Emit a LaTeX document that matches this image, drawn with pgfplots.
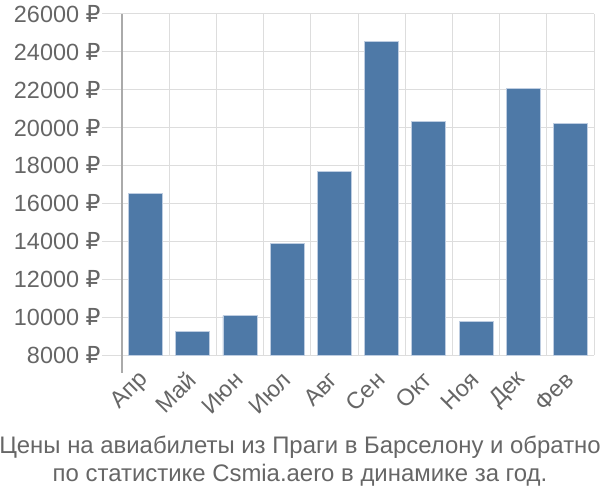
\documentclass[border=0pt]{standalone}
\usepackage{pgfplots}
\pgfplotsset{compat=1.18}
\usepackage{fontspec}
\setmainfont{Liberation Sans}
\newfontfamily\rub{DejaVu Sans}
\definecolor{barc}{HTML}{4E79A7}
\definecolor{gridc}{HTML}{DDDDDD}
\definecolor{txt}{HTML}{666666}
\definecolor{axc}{HTML}{AAAAAA}
\newcommand{\R}{\ {\rub ₽}}
\begin{document}
\begin{tikzpicture}
\path[use as bounding box] (-122bp,-145bp) rectangle (478bp,355bp);
\begin{axis}[
  at={(0,0)}, anchor=south west,
  scale only axis, width=472bp, height=341bp,
  xmin=-0.5, xmax=9.5, ymin=8000, ymax=26000,
  scaled y ticks=false,
  ytick={8000,10000,...,26000},
  yticklabels={8000\R,10000\R,12000\R,14000\R,16000\R,18000\R,20000\R,22000\R,24000\R,26000\R},
  xtick={0,...,9},
  xticklabels={Апр,Май,Июн,Июл,Авг,Сен,Окт,Ноя,Дек,Фев},
  minor xtick={-0.5,0.5,...,9.5},
  xminorgrids, ymajorgrids,
  grid style={gridc, line width=1bp},
  minor grid style={gridc, line width=1bp},
  tick align=outside, xtick pos=bottom, ytick pos=left,
  major tick length=20bp,
  x tick style={draw=none},
  minor x tick style={gridc, line width=1bp},
  minor tick length=18bp,
  y tick style={gridc, line width=1bp},
  separate axis lines,
  x axis line style={gridc, line width=1bp},
  y axis line style={axc, line width=1.5bp},
  axis x line*=bottom, axis y line*=left,
  x tick label style={rotate=45, anchor=east, font=\fontsize{23.5}{24}\selectfont, text=txt, xshift=2bp},
  y tick label style={font=\fontsize{23.5}{24}\selectfont, text=txt, xshift=2bp},
  ybar, bar width=34bp,
  clip=false,
]
\addplot[fill=barc, draw={rgb,255:red,190;green,205;blue,225}, line width=0.8bp] coordinates {
(0,16510) (1,9230) (2,10080) (3,13870) (4,17710) (5,24570) (6,20320) (7,9780) (8,22080) (9,20230)};
\end{axis}
\draw[gridc, line width=1bp] (472bp,0) -- (472bp,341bp);
\draw[axc, line width=1.5bp] (0,0) -- (0,-18bp);
\node[text=txt, font=\fontsize{24}{24}\selectfont] at (178bp,-92bp) {Цены на авиабилеты из Праги в Барселону и обратно};
\node[text=txt, font=\fontsize{24}{24}\selectfont] at (178bp,-120bp) {по статистике Csmia.aero в динамике за год.};
\end{tikzpicture}
\end{document}
